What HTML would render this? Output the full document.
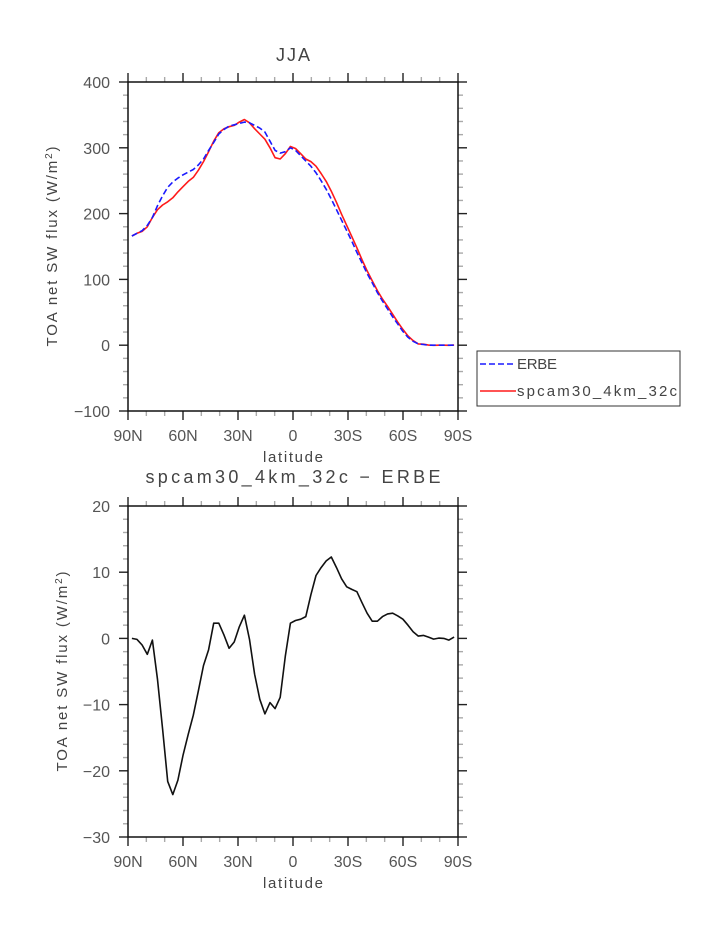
<!DOCTYPE html>
<html><head><meta charset="utf-8">
<style>
body{margin:0;background:#fff;}
svg{display:block;font-family:"Liberation Sans",sans-serif;}
</style></head><body>
<svg id="c" width="723" height="935" xmlns="http://www.w3.org/2000/svg"></svg>
<script>
const lats = [];
for (let i = 0; i < 64; i++) lats.push(87.86 - i * 2.789);
const erbe = [166,170,174,182,194,212,227,240,248,254,259,263,267,274,283,296,308,321,328,333,335,337,339,338,334,330,324,310,296,292,294,300,296,288,280,272,262,250,237,222,206,190,174,158,141,125,109,95,80,67,55,43,32,21,12,6,2,1,0,0,0,0,0,0];
const model = [166,170,173,180,194,206,213,218,224,233,241,249,255,266,279,294,310,323,329,332,334,339,343,338,329,321,313,300,285,283,291,302,299,291,283,279,272,261,249,234,217,199,182,165,148,130,113,98,83,70,59,47,35,24,14,7,2,1.5,0.2,-0.1,0,0,-0.2,0.2];
const diff = [0,-0.15,-1,-2.4,-0.25,-6.2,-13.7,-21.6,-23.6,-21.4,-17.6,-14.5,-11.6,-7.9,-4.1,-1.7,2.3,2.3,0.5,-1.5,-0.55,1.75,3.5,-0.15,-5.4,-9.2,-11.4,-9.7,-10.6,-8.9,-2.7,2.3,2.7,2.9,3.3,6.6,9.5,10.7,11.7,12.3,10.7,9.0,7.8,7.4,7.05,5.4,3.8,2.6,2.6,3.3,3.7,3.8,3.4,2.9,2.0,1.0,0.35,0.45,0.2,-0.1,0.05,0,-0.25,0.2];
const xTickVals = [90,60,30,0,-30,-60,-90];
const xTickLabels = ["90N","60N","30N","0","30S","60S","90S"];
const yTopTicks = [-100,0,100,200,300,400];
const yBotTicks = [-30,-20,-10,0,10,20];

const svg = document.getElementById('c');
const NS = 'http://www.w3.org/2000/svg';
function mk(tag, attrs, parent){const e=document.createElementNS(NS,tag);for(const k in attrs)e.setAttribute(k,attrs[k]);(parent||svg).appendChild(e);return e;}
const X0=128, X1=458;
const xs = lat => X0 + (90 - lat) / 180 * (X1 - X0);

function panel(name, top, bot, ymin, ymax, yticks, minorStep, title, titleY, titleLen, ytitle){
  const g = mk('g', {});
  
  
  const ys = v => bot - (v - ymin) / (ymax - ymin) * (bot - top);
  for (let l = 90; l >= -90; l -= 10) {
    const x = xs(l); const major = l % 30 === 0;
    const len = major ? 9 : 5; const col = major ? '#222' : '#aaa';
    mk('line',{x1:x,x2:x,y1:bot,y2:bot+len,stroke:col,'stroke-width':1.4},g);
    mk('line',{x1:x,x2:x,y1:top,y2:top-len,stroke:col,'stroke-width':1.4},g);
  }
  for (let v = ymin; v <= ymax + 1e-9; v += minorStep) {
    const y = ys(v); const major = yticks.some(t => Math.abs(t - v) < 1e-6);
    const len = major ? 9 : 5; const col = major ? '#222' : '#aaa';
    mk('line',{x1:X0,x2:X0-len,y1:y,y2:y,stroke:col,'stroke-width':1.4},g);
    mk('line',{x1:X1,x2:X1+len,y1:y,y2:y,stroke:col,'stroke-width':1.4},g);
  }
  mk('rect',{x:X0,y:top,width:X1-X0,height:bot-top,fill:'none',stroke:'#111','stroke-width':1.5},g);
  xTickVals.forEach((v,i)=>{
    const lab = xTickLabels[i];
    const t = mk('text',{x:xs(v),y:bot+30,'text-anchor':'middle','font-size':16,fill:'#555'},g);
    
    
    t.textContent = lab;
  });
  yticks.forEach(v=>{
    const lab = v < 0 ? '\u2212' + Math.abs(v) : String(v);
    const t = mk('text',{x:X0-18,y:ys(v)+6,'text-anchor':'end','font-size':16,fill:'#555'},g);
    
    
    t.textContent = lab;
  });
  const xt = mk('text',{x:293,y:bot+51,'text-anchor':'middle','font-size':15,fill:'#444',textLength:60,lengthAdjust:'spacing'},g);
  
  
  xt.textContent = 'latitude';
  const tt = mk('text',{x:293,y:titleY,'text-anchor':'middle','font-size':18,fill:'#444',textLength:titleLen,lengthAdjust:'spacing'},g);
  
  
  tt.textContent = title;
  const cy = (top+bot)/2;
  const yt = mk('text',{x:0,y:0,'text-anchor':'middle','font-size':15,fill:'#444',textLength:200,lengthAdjust:'spacing',transform:`translate(${ytitle},${cy}) rotate(-90)`},g);
  
  
  yt.innerHTML = 'TOA net SW flux (W/m<tspan dy="-5" font-size="10">2</tspan><tspan dy="5">)</tspan>';
  return ys;
}

const ysT = panel('top-panel', 82, 411, -100, 400, yTopTicks, 20, 'JJA', 61, 34, 57);
const ysB = panel('bottom-panel', 506, 837, -30, 20, yBotTicks, 2, 'spcam30_4km_32c \u2212 ERBE', 483, 295, 67);

function line(vals, ys, stroke, dash, name){
  const d = vals.map((v,i)=>(i?'L':'M')+xs(lats[i]).toFixed(1)+','+ys(v).toFixed(1)).join('');
  const p = mk('path',{d:d,fill:'none',stroke:stroke,'stroke-width':1.6,'stroke-dasharray':dash||'none','stroke-linejoin':'round'});
  
  
}
line(model, ysT, '#ff1a1a', null, 'model-line');
line(erbe, ysT, '#1a1aff', '6,3', 'erbe-line');
line(diff, ysB, '#111', null, 'difference-line');

const lg = mk('g',{});


mk('rect',{x:477,y:351,width:203,height:55,fill:'#fff',stroke:'#333','stroke-width':1},lg);
mk('line',{x1:480,x2:516,y1:364,y2:364,stroke:'#1a1aff','stroke-width':1.6,'stroke-dasharray':'6,3'},lg);
mk('line',{x1:480,x2:516,y1:391,y2:391,stroke:'#ff1a1a','stroke-width':1.6},lg);
const l1 = mk('text',{x:517,y:369,'font-size':15,fill:'#444',textLength:40,lengthAdjust:'spacing'},lg);


l1.textContent='ERBE';
const l2 = mk('text',{x:517,y:396,'font-size':15,fill:'#444',textLength:160,lengthAdjust:'spacing'},lg);


l2.textContent='spcam30_4km_32c';
</script>
</body></html>
